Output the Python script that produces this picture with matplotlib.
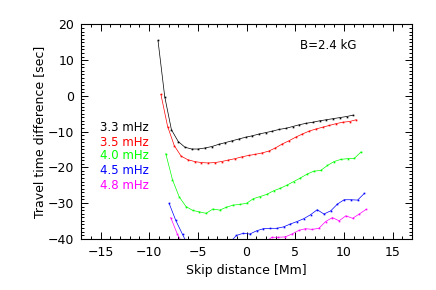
import matplotlib
matplotlib.use("Agg")
import matplotlib.pyplot as plt
from matplotlib.ticker import MultipleLocator

# skip distance [Mm] and travel time difference [sec] for each frequency
x_33 = [-9.10, -8.41, -7.72, -7.02, -6.33, -5.64, -4.95, -4.26, -3.56, -2.87,
        -2.18, -1.49, -0.80, -0.10, 0.59, 1.28, 1.97, 2.66, 3.36, 4.05,
        4.74, 5.43, 6.12, 6.82, 7.51, 8.20, 8.89, 9.58, 10.28, 10.97]
y_33 = [15.5, -0.2, -9.5, -12.8, -14.4, -14.9, -14.9, -14.6, -14.2, -13.6,
        -13.1, -12.6, -12.1, -11.6, -11.2, -10.7, -10.3, -9.9, -9.4, -9.1,
        -8.6, -8.1, -7.7, -7.4, -7.0, -6.7, -6.4, -6.1, -5.8, -5.4]

x_35 = [-8.80, -8.11, -7.42, -6.72, -6.03, -5.34, -4.65, -3.96, -3.26, -2.57,
        -1.88, -1.19, -0.50, 0.20, 0.89, 1.58, 2.27, 2.96, 3.66, 4.35,
        5.04, 5.73, 6.42, 7.12, 7.81, 8.50, 9.19, 9.88, 10.58, 11.27]
y_35 = [0.4, -8.6, -14.0, -16.9, -17.9, -18.4, -18.7, -18.8, -18.7, -18.4,
        -18.0, -17.6, -17.1, -16.7, -16.4, -16.0, -15.5, -14.6, -13.5, -12.6,
        -11.6, -10.7, -9.9, -9.3, -8.8, -8.3, -7.8, -7.4, -7.2, -6.7]

x_40 = [-8.30, -7.61, -6.92, -6.22, -5.53, -4.84, -4.15, -3.46, -2.76, -2.07,
        -1.38, -0.69, 0.00, 0.70, 1.39, 2.08, 2.77, 3.46, 4.16, 4.85,
        5.54, 6.23, 6.92, 7.62, 8.31, 9.00, 9.69, 10.38, 11.08, 11.77]
y_40 = [-16.2, -23.5, -28.3, -31.0, -32.1, -32.5, -32.9, -31.7, -32.0, -31.2,
        -30.6, -30.4, -30.1, -28.8, -28.2, -27.6, -26.6, -25.9, -25.0, -24.0,
        -23.0, -21.9, -21.1, -20.9, -19.5, -18.4, -17.8, -17.6, -17.5, -15.7]

x_45 = [-7.96, -7.27, -6.58, -5.88, -5.19, -4.50, -3.81, -3.12, -2.42, -1.73,
        -1.04, -0.35, 0.34, 1.03, 1.73, 2.42, 3.11, 3.80, 4.49, 5.19,
        5.88, 6.57, 7.26, 7.95, 8.65, 9.34, 10.03, 10.72, 11.41, 12.11]
y_45 = [-30.1, -34.9, -38.8, -42.6, -44.0, -45.0, -45.0, -44.5, -43.0, -41.1,
        -39.1, -38.5, -38.7, -37.8, -37.2, -37.1, -37.1, -36.7, -35.9, -35.2,
        -34.4, -33.3, -31.9, -33.1, -32.2, -30.3, -29.1, -29.1, -29.2, -27.3]

x_48 = [-7.79, -7.10, -6.41, -5.72, -5.02, -4.33, -3.64, -2.95, -2.26, -1.56,
        -0.87, -0.18, 0.51, 1.20, 1.90, 2.59, 3.28, 3.97, 4.66, 5.36,
        6.05, 6.74, 7.43, 8.12, 8.82, 9.51, 10.20, 10.89, 11.58, 12.28]
y_48 = [-34.1, -38.8, -42.1, -44.0, -45.0, -46.0, -46.0, -46.0, -45.5, -45.0,
        -44.5, -44.0, -43.0, -42.0, -41.1, -39.6, -39.6, -39.5, -38.7, -37.7,
        -37.2, -37.4, -37.1, -35.2, -34.1, -35.0, -33.6, -34.3, -33.1, -31.8]

labels = ['3.3 mHz', '3.5 mHz', '4.0 mHz', '4.5 mHz', '4.8 mHz']
colors = ['black', '#ff0000', '#00ff00', '#0000ff', '#ff00ff']
xs = [x_33, x_35, x_40, x_45, x_48]
ys = [y_33, y_35, y_40, y_45, y_48]

fig = plt.figure(figsize=(4.36, 2.90), dpi=100)
ax = fig.add_axes([0.186, 0.177, 0.759, 0.739])

for x, y, c in zip(xs, ys, colors):
    ax.plot(x, y, color=c, lw=0.5, marker='s', ms=1.2, mew=0)

ax.set_xlim(-17, 17)
ax.set_ylim(-40, 20)
ax.xaxis.set_major_locator(MultipleLocator(5))
ax.xaxis.set_minor_locator(MultipleLocator(1))
ax.yaxis.set_major_locator(MultipleLocator(10))
ax.yaxis.set_minor_locator(MultipleLocator(1))
ax.tick_params(which='both', direction='in', top=True, right=True,
               labelsize=9, width=0.7, pad=5)
ax.tick_params(which='major', length=5)
ax.tick_params(which='minor', length=2.5)
for s in ax.spines.values():
    s.set_linewidth(0.8)

ax.set_xlabel('Skip distance [Mm]', fontsize=9, labelpad=4)
ax.set_ylabel('Travel time difference [sec]', fontsize=9, labelpad=1)

ly = [0.521, 0.451, 0.386, 0.316, 0.250]
for t, c, yy in zip(labels, colors, ly):
    ax.text(0.057, yy, t, color=c, fontsize=8.5, va='center', ha='left',
            transform=ax.transAxes)
ax.text(0.662, 0.903, 'B=2.4 kG', fontsize=8.5, va='center', ha='left',
        transform=ax.transAxes)

fig.savefig('out.png', dpi=100)
